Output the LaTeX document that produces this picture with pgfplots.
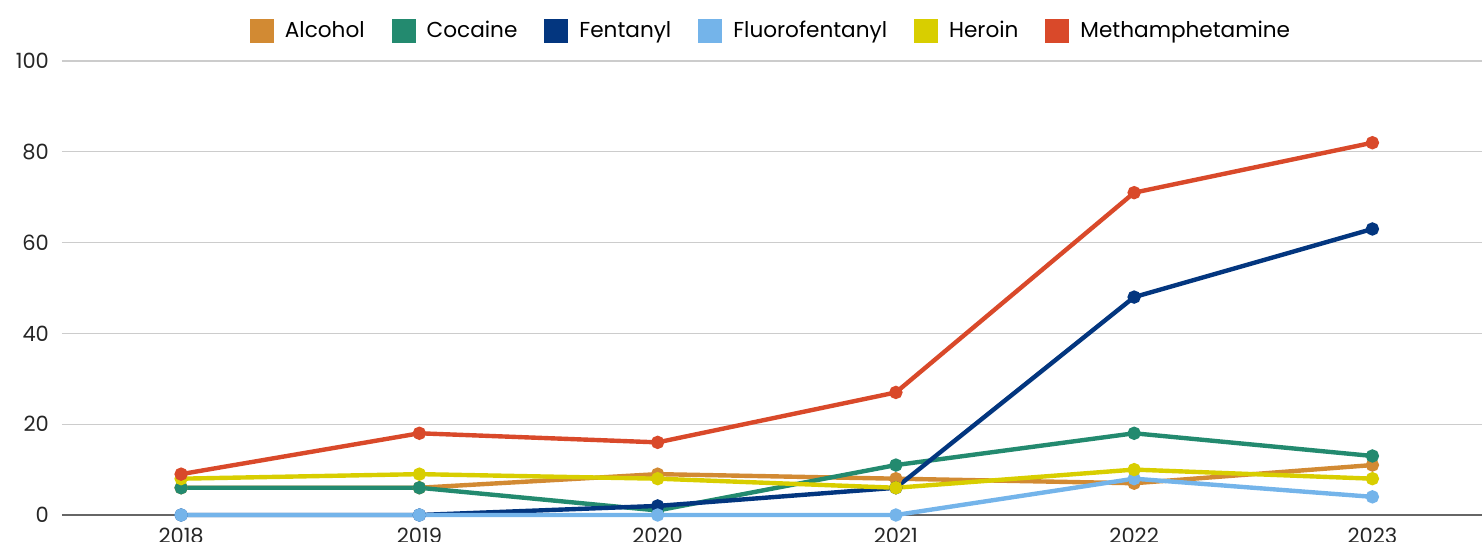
\documentclass[border=0pt]{standalone}
\usepackage{pgfplots}
\pgfplotsset{compat=1.18}
\usepackage{fontspec}
\setmainfont{Poppins}
\definecolor{alc}{HTML}{D28A33}
\definecolor{coc}{HTML}{238A6F}
\definecolor{fen}{HTML}{03367F}
\definecolor{flu}{HTML}{74B4EA}
\definecolor{her}{HTML}{D8CE00}
\definecolor{met}{HTML}{D9492A}
\begin{document}
\begin{tikzpicture}
\begin{axis}[
  at={(0,0)}, anchor=south west,
  scale only axis,
  width=710pt, height=227pt,
  xmin=2017.5, xmax=2023.46,
  ymin=0, ymax=100,
  xtick={2018,2019,2020,2021,2022,2023},
  ytick={0,20,40,60,80,100},
  /pgf/number format/assume math mode=true,
  xticklabel style={/pgf/number format/1000 sep={}, font=\fontsize{10.5}{12}\selectfont, text=black!85, yshift=-3pt},
  yticklabel style={font=\fontsize{10.5}{12}\selectfont, text=black!85, xshift=-3pt},
  major tick length=0pt,
  ymajorgrids,
  grid style={draw=black!20, line width=0.6pt},
  axis x line*=bottom,
  axis y line*=left,
  y axis line style={draw=none},
  x axis line style={draw=black!60, line width=0.7pt, -},
  every axis plot/.append style={line width=2.2pt, mark=*, mark size=2.2pt},
  legend columns=6,
  legend style={at={(0.5,1)}, anchor=south, yshift=6pt, draw=none, fill=none,
    font=\fontsize{10.8}{12}\selectfont, column sep=0pt,
    /tikz/every odd column/.append style={column sep=3.5pt},
    /tikz/every even column/.append style={column sep=11.5pt}},
  legend image code/.code={\fill[#1, draw=none] (0pt,-6pt) rectangle (12pt,6pt);},
  clip=false,
]
\addplot[color=alc] coordinates {(2018,6) (2019,6) (2020,9) (2021,8) (2022,7) (2023,11)};
\addlegendentry{Alcohol}
\addplot[color=coc] coordinates {(2018,6) (2019,6) (2020,1) (2021,11) (2022,18) (2023,13)};
\addlegendentry{Cocaine}
\addplot[color=fen] coordinates {(2018,0) (2019,0) (2020,2) (2021,6) (2022,48) (2023,63)};
\addlegendentry{Fentanyl}
\addplot[color=flu] coordinates {(2018,0) (2019,0) (2020,0) (2021,0) (2022,8) (2023,4)};
\addlegendentry{Fluorofentanyl}
\addplot[color=her] coordinates {(2018,8) (2019,9) (2020,8) (2021,6) (2022,10) (2023,8)};
\addlegendentry{Heroin}
\addplot[color=met] coordinates {(2018,9) (2019,18) (2020,16) (2021,27) (2022,71) (2023,82)};
\addlegendentry{Methamphetamine}
\end{axis}
\pgfresetboundingbox
\useasboundingbox (-31pt,-13pt) rectangle (710pt,257.5pt);
\end{tikzpicture}
\end{document}
